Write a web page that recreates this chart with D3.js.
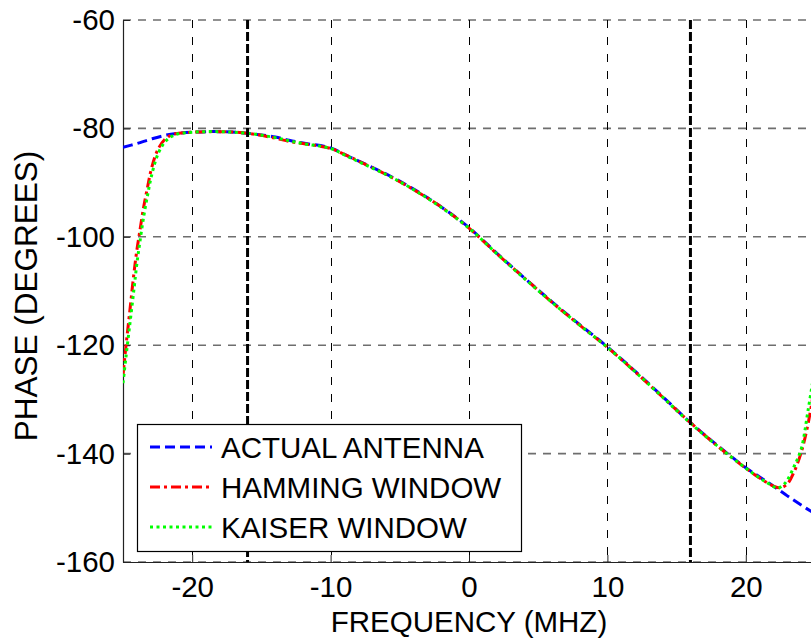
<!DOCTYPE html>
<html>
<head>
<meta charset="utf-8">
<script src="https://cdn.jsdelivr.net/npm/d3@7"></script>
<style>
body { margin: 0; background: #fff; }
text { font-family: "Liberation Sans", Arial, sans-serif; fill: #000; }
</style>
</head>
<body>
<svg id="chart" width="811" height="638"></svg>
<script>
// values
const actualFreq  = [-25, -24, -23, -22, -21, -20, -18, -16, -14, -13, -12, -10, -9, -8, -6, -4, -2, 0, 2, 4, 6, 8, 10, 12, 14, 16, 18, 20, 21, 22, 23, 24, 25];
const actualPhase = [-83.5, -82.8, -82.0, -81.3, -80.9, -80.7, -80.6, -80.9, -81.6, -82.2, -82.7, -83.6, -84.8, -86.0, -88.4, -91.2, -94.5, -98.3, -103.0, -107.6, -112.0, -116.2, -120.3, -124.8, -129.5, -134.3, -138.6, -142.6, -144.3, -146.0, -147.8, -149.5, -151.1];

const hammingFreq  = [-25, -24.8, -24.5, -24.2, -24, -23.8, -23.5, -23.2, -23, -22.7, -22.4, -22, -21.5, -21, -20, -18, -16, -14, -13, -12, -10, -9, -8, -6, -4, -2, 0, 2, 4, 6, 8, 10, 12, 14, 16, 18, 20, 21, 21.5, 22, 22.5, 23, 23.5, 24, 24.5, 25];
const hammingPhase = [-125.5, -120.5, -113.5, -106.5, -102.5, -99.2, -94.4, -90.5, -88.0, -85.3, -83.5, -82.1, -81.2, -80.9, -80.7, -80.6, -80.9, -81.8, -82.4, -82.8, -83.7, -84.8, -86.0, -88.5, -91.3, -94.5, -98.4, -103.1, -107.6, -112.1, -116.3, -120.4, -124.9, -129.6, -134.3, -138.7, -142.7, -144.5, -145.3, -146.0, -146.3, -145.6, -143.3, -139.8, -134.5, -127.0];

const kaiserFreq  = [-25, -24.8, -24.5, -24.2, -24, -23.8, -23.5, -23.2, -23, -22.7, -22.4, -22, -21.5, -21, -20, -18, -16, -14, -13, -12, -10, -9, -8, -6, -4, -2, 0, 2, 4, 6, 8, 10, 12, 14, 16, 18, 20, 21, 21.5, 22, 22.3, 22.7, 23, 23.5, 24, 24.5, 25];
const kaiserPhase = [-127.0, -122.5, -116.0, -109.5, -105.0, -101.3, -96.2, -92.0, -89.4, -86.4, -84.3, -82.6, -81.5, -81.0, -80.7, -80.6, -80.9, -81.7, -82.3, -82.8, -83.7, -84.9, -86.1, -88.5, -91.3, -94.6, -98.4, -103.1, -107.7, -112.1, -116.3, -120.4, -124.9, -129.6, -134.4, -138.7, -142.7, -144.5, -145.3, -146.1, -146.4, -145.8, -144.9, -142.3, -139.2, -132.0, -124.0];

const xTicks = [-20, -10, 0, 10, 20];
const yTicks = [-160, -140, -120, -100, -80, -60];
const cutoffFreqs = [-16, 16];

const seriesNames = ["ACTUAL ANTENNA", "HAMMING WINDOW", "KAISER WINDOW"];
const seriesColors = ["#0000ff", "#ff0000", "#00ff00"];
const seriesDashes = ["10,5", "10,4,3,4", "3,3.5"];

const svg = d3.select("#chart");
const margin = {top: 20, left: 123, bottom: 562, right: 815};

let x = d3.scaleLinear().domain([-25, 25]).range([margin.left, margin.right]),
    y = d3.scaleLinear().domain([-160, -60]).range([margin.bottom, margin.top]);

svg.append("rect").attr("width", 811).attr("height", 638).attr("fill", "#fff");

svg.append("clipPath").attr("id", "plotClip")
    .append("rect")
    .attr("x", margin.left).attr("y", margin.top - 2)
    .attr("width", margin.right - margin.left).attr("height", margin.bottom - margin.top + 2);

// grid
let grid = svg.append("g");
grid.selectAll(".hgrid").data(yTicks).enter().append("line")
    .attr("class", "hgrid")
    .attr("x1", margin.left).attr("x2", margin.right)
    .attr("y1", d => y(d)).attr("y2", d => y(d))
    .attr("stroke", "#6e6e6e").attr("stroke-width", 1.6)
    .attr("stroke-dasharray", "8,7");
grid.selectAll(".vgrid").data(xTicks).enter().append("line")
    .attr("class", "vgrid")
    .attr("x1", d => Math.round(x(d)) + 0.5).attr("x2", d => Math.round(x(d)) + 0.5)
    .attr("y1", margin.top).attr("y2", margin.bottom)
    .attr("stroke", "#000").attr("stroke-width", 1)
    .attr("stroke-dasharray", "8,9");

// axes, ticks pointing inward, plain hyphen minus like the original
let fmt = d => String(d);
let yAxis = d3.axisLeft(y).tickValues(yTicks).tickFormat(fmt).tickSize(-7).tickSizeOuter(0).tickPadding(8);
let yg = svg.append("g").attr("transform", "translate(" + margin.left + ",0)").call(yAxis);
let xAxis = d3.axisBottom(x).tickValues(xTicks).tickFormat(fmt).tickSize(-7).tickSizeOuter(0).tickPadding(14);
let xg = svg.append("g").attr("transform", "translate(0," + margin.bottom + ")").call(xAxis);
[xg, yg].forEach(g => {
    g.selectAll("text").style("font-size", "29.5px").attr("fill", "#000");
    g.selectAll("line").attr("stroke", "#222");
    g.select(".domain").attr("stroke", "#222").attr("stroke-width", 1.2);
});

// curves
let linefcn = d3.line()
    .x(d => x(d[0]))
    .y(d => y(d[1]))
    .curve(d3.curveCatmullRom);

let series = [d3.zip(actualFreq, actualPhase), d3.zip(hammingFreq, hammingPhase), d3.zip(kaiserFreq, kaiserPhase)];

let plot = svg.append("g").attr("clip-path", "url(#plotClip)");
plot.selectAll("path.curve").data(series).enter().append("path")
    .attr("class", "curve")
    .attr("d", d => linefcn(d))
    .attr("fill", "none")
    .attr("stroke", (d, i) => seriesColors[i])
    .attr("stroke-width", 3)
    .attr("stroke-dasharray", (d, i) => seriesDashes[i]);

// band edges
plot.selectAll(".cutoff").data(cutoffFreqs).enter().append("line")
    .attr("class", "cutoff")
    .attr("x1", d => x(d)).attr("x2", d => x(d))
    .attr("y1", margin.top).attr("y2", margin.bottom)
    .attr("stroke", "#000").attr("stroke-width", 3)
    .attr("stroke-dasharray", "9,3");

// axis labels
svg.append("text")
    .attr("x", (margin.left + margin.right) / 2).attr("y", 632)
    .attr("text-anchor", "middle").style("font-size", "29.5px")
    .text("FREQUENCY (MHZ)");
svg.append("text")
    .attr("transform", "translate(37,296) rotate(-90)")
    .attr("text-anchor", "middle").style("font-size", "31.5px")
    .text("PHASE (DEGREES)");

// legend
let legend = svg.append("g").attr("transform", "translate(137,424)");
legend.append("rect")
    .attr("x", 0.5).attr("y", 0.5).attr("width", 384).attr("height", 127)
    .attr("fill", "#fff").attr("stroke", "#000").attr("stroke-width", 1.2);
let rows = legend.selectAll(".leg").data(seriesNames).enter().append("g")
    .attr("class", "leg")
    .attr("transform", (d, i) => "translate(0," + (23 + i * 40) + ")");
rows.append("line")
    .attr("x1", 13).attr("x2", 75)
    .attr("stroke", (d, i) => seriesColors[i])
    .attr("stroke-width", 3)
    .attr("stroke-dasharray", (d, i) => seriesDashes[i]);
rows.append("text")
    .attr("x", 84).attr("dy", "0.36em")
    .style("font-size", "29.5px")
    .text(d => d);
</script>
</body>
</html>
